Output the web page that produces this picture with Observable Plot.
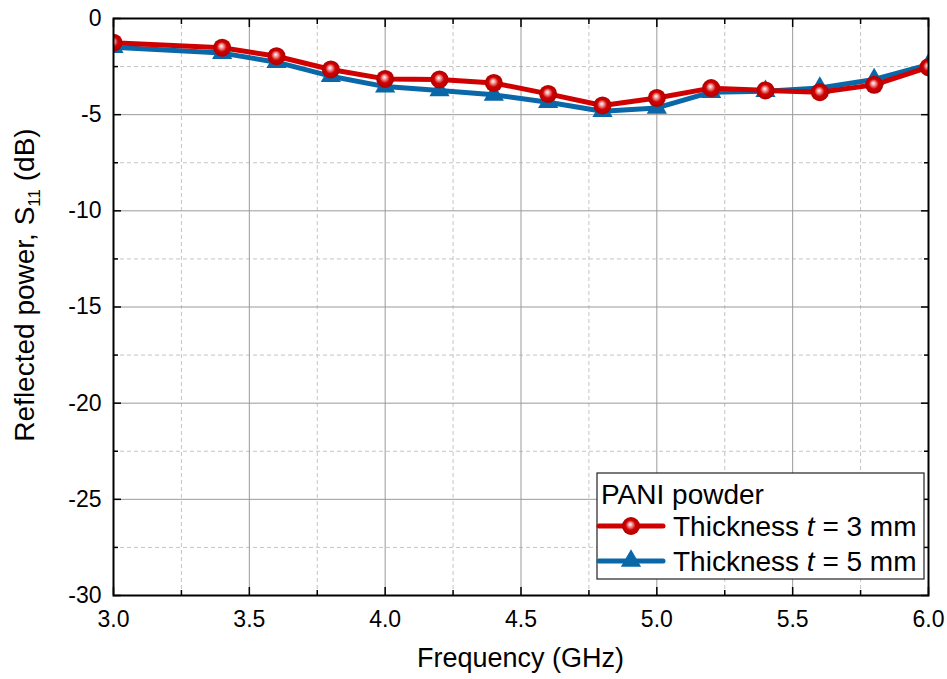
<!DOCTYPE html>
<html><head><meta charset="utf-8">
<script src="https://cdn.jsdelivr.net/npm/d3@7"></script>
<script src="https://cdn.jsdelivr.net/npm/@observablehq/plot@0.6"></script>
<style>body{margin:0;background:#fff}</style>
</head><body><div id="chart"></div>
<script>
// ---- data ----
const freq = [3.0, 3.4, 3.6, 3.8, 4.0, 4.2, 4.4, 4.6, 4.8, 5.0, 5.2, 5.4, 5.6, 5.8, 6.0];
const s11_3mm = [-1.26, -1.52, -1.96, -2.65, -3.14, -3.17, -3.35, -3.92, -4.52, -4.13, -3.62, -3.74, -3.83, -3.45, -2.53];
const s11_5mm = [-1.49, -1.80, -2.27, -3.00, -3.54, -3.74, -3.97, -4.35, -4.82, -4.65, -3.83, -3.78, -3.61, -3.17, -2.40];
const xTicks = [3.0, 3.5, 4.0, 4.5, 5.0, 5.5, 6.0];
const xMinor = [3.25, 3.75, 4.25, 4.75, 5.25, 5.75];
const yTicks = [0, -5, -10, -15, -20, -25, -30];
const yMinor = [-2.5, -7.5, -12.5, -17.5, -22.5, -27.5];
const legendTitle = "PANI powder";
const seriesNames = ["3 mm", "5 mm"];
const red = "#d00000", blue = "#0a67a8";

const d3mm = freq.map((f, i) => ({f, v: s11_3mm[i]}));
const d5mm = freq.map((f, i) => ({f, v: s11_5mm[i]}));

const font = "'Liberation Sans', Arial, Helvetica, sans-serif";

const plot = Plot.plot({
  width: 947, height: 679,
  marginLeft: 113, marginRight: 19, marginTop: 18, marginBottom: 84,
  style: {fontFamily: font, fontSize: "23px", color: "#000", background: "#fff"},
  x: {domain: [3, 6]},
  y: {domain: [-30, 0]},
  marks: [
    Plot.ruleX(xMinor, {stroke: "#c4c4c4", strokeDasharray: "4,3"}),
    Plot.ruleY(yMinor, {stroke: "#c4c4c4", strokeDasharray: "4,3"}),
    Plot.ruleX(xTicks, {stroke: "#9a9a9a", strokeWidth: 1}),
    Plot.ruleY(yTicks, {stroke: "#9a9a9a", strokeWidth: 1}),
    // inward ticks
    Plot.axisX({anchor: "bottom", ticks: xTicks, tickSize: -8, text: null, label: null, strokeWidth: 1.5}),
    Plot.axisX({anchor: "top", ticks: xTicks, tickSize: -8, text: null, label: null, strokeWidth: 1.5}),
    Plot.axisX({anchor: "bottom", ticks: xMinor, tickSize: -5, text: null, label: null, strokeWidth: 1.5}),
    Plot.axisX({anchor: "top", ticks: xMinor, tickSize: -5, text: null, label: null, strokeWidth: 1.5}),
    Plot.axisY({anchor: "left", ticks: yTicks, tickSize: -8, text: null, label: null, strokeWidth: 1.5}),
    Plot.axisY({anchor: "right", ticks: yTicks, tickSize: -8, text: null, label: null, strokeWidth: 1.5}),
    Plot.axisY({anchor: "left", ticks: yMinor, tickSize: -5, text: null, label: null, strokeWidth: 1.5}),
    Plot.axisY({anchor: "right", ticks: yMinor, tickSize: -5, text: null, label: null, strokeWidth: 1.5}),
    // tick labels
    Plot.axisX({anchor: "bottom", ticks: xTicks, tickSize: 0, tickPadding: 15, tickFormat: d3.format(".1f"), label: null}),
    Plot.axisY({anchor: "left", ticks: yTicks, tickSize: 0, tickPadding: 12, tickFormat: d => String(d), label: null}),
    // series
    Plot.line(d5mm, {x: "f", y: "v", stroke: blue, strokeWidth: 5, clip: true}),
    Plot.dot(d5mm, {x: "f", y: "v", symbol: "triangle", r: 7.5, fill: blue, stroke: "none", clip: true}),
    Plot.line(d3mm, {x: "f", y: "v", stroke: red, strokeWidth: 5, clip: true}),
    Plot.dot(d3mm, {x: "f", y: "v", r: 9, fill: "url(#ball)", stroke: "none", clip: true}),
    Plot.frame({stroke: "#000", strokeWidth: 2})
  ]
});

const svg = d3.select(plot);
// tick label size (all text present so far is tick labels)
svg.selectAll("text").style("font-size", "23px").style("font-family", font);

// gradient for shiny ball markers
const defs = svg.insert("defs", ":first-child");
const g = defs.append("radialGradient").attr("id", "ball")
  .attr("cx", "50%").attr("cy", "50%").attr("r", "50%").attr("fx", "45%").attr("fy", "40%");
g.append("stop").attr("offset", "0%").attr("stop-color", "#ffffff");
g.append("stop").attr("offset", "22%").attr("stop-color", "#f4a0a0");
g.append("stop").attr("offset", "55%").attr("stop-color", "#d00000");
g.append("stop").attr("offset", "100%").attr("stop-color", "#b00000");

const x = plot.scale("x"), y = plot.scale("y");

// axis titles
svg.append("text").attr("x", (x.range[0] + x.range[1]) / 2).attr("y", 667)
  .attr("text-anchor", "middle").attr("font-family", font).attr("font-size", 27).attr("fill", "#000")
  .text("Frequency (GHz)");
const yl = svg.append("text").attr("transform", `translate(34,285) rotate(-90)`)
  .attr("text-anchor", "middle").attr("font-family", font).attr("font-size", 28).attr("fill", "#000");
yl.append("tspan").text("Reflected power, S");
yl.append("tspan").attr("font-size", 17).attr("dy", 6).text("11");
yl.append("tspan").attr("dy", -6).text(" (dB)");

// legend
const L = svg.append("g").attr("font-family", font).attr("font-size", 28).attr("fill", "#000")
  .attr("text-anchor", "start");
L.append("rect").attr("x", 597).attr("y", 473).attr("width", 327).attr("height", 106)
  .attr("fill", "#fff").attr("stroke", "#222").attr("stroke-width", 1.2);
L.append("text").attr("x", 601).attr("y", 504).text(legendTitle);
const rows = [{name: seriesNames[0], color: red, sym: "ball", yy: 526},
              {name: seriesNames[1], color: blue, sym: "tri", yy: 561}];
rows.forEach(r => {
  L.append("line").attr("x1", 599).attr("x2", 663).attr("y1", r.yy).attr("y2", r.yy)
    .attr("stroke", r.color).attr("stroke-width", 5).attr("stroke-linecap", "round");
  if (r.sym === "ball") {
    L.append("circle").attr("cx", 631).attr("cy", r.yy).attr("r", 9).attr("fill", "url(#ball)");
  } else {
    L.append("path").attr("transform", `translate(631,${r.yy})`)
      .attr("d", d3.symbol(d3.symbolTriangle, Math.PI * 7.5 * 7.5)()).attr("fill", r.color);
  }
  const t = L.append("text").attr("x", 673).attr("y", r.yy + 10);
  t.append("tspan").text("Thickness ");
  t.append("tspan").attr("font-style", "italic").text("t");
  t.append("tspan").text(" = " + r.name);
});

document.getElementById("chart").appendChild(plot);
</script>
</body></html>
